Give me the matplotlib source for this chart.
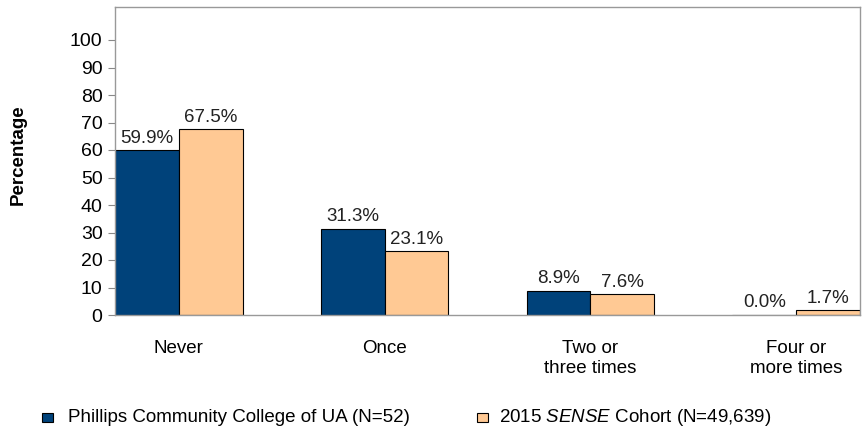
import matplotlib
matplotlib.use("Agg")
import matplotlib.pyplot as plt
from matplotlib.patches import Rectangle
import numpy as np

plt.rcParams['font.family'] = ['Liberation Sans', 'DejaVu Sans']
plt.rcParams['mathtext.fontset'] = 'custom'
plt.rcParams['mathtext.it'] = 'Liberation Sans:italic'
plt.rcParams['mathtext.rm'] = 'Liberation Sans'

categories = ["Never", "Once", "Two or\nthree times", "Four or\nmore times"]
college = [59.9, 31.3, 8.9, 0.0]
cohort = [67.5, 23.1, 7.6, 1.7]
series_names = ["Phillips Community College of UA (N=52)", "2015 $\\it{SENSE}$ Cohort (N=49,639)"]
yticks = [0, 10, 20, 30, 40, 50, 60, 70, 80, 90, 100]

c_blue = "#00427A"
c_orange = "#FFC994"
FS = 13.5

fig = plt.figure(figsize=(8.63, 4.30), dpi=100)
ax = fig.add_axes([115/863, 1-315/430, 745/863, 308/430])

x = np.arange(len(categories))
w = 0.31
b1 = ax.bar(x - w/2, college, w, color=c_blue, edgecolor="black", linewidth=0.8)
b2 = ax.bar(x + w/2, cohort, w, color=c_orange, edgecolor="black", linewidth=0.8)

for rects, vals in ((b1, college), (b2, cohort)):
    for r, v in zip(rects, vals):
        ax.text(r.get_x() + r.get_width()/2, v + 1.3, f"{v:.1f}%", ha="center", va="bottom", fontsize=FS, color="#222222")

ax.set_xlim(-0.31, 3.31)
ax.set_ylim(0, 112)
ax.set_yticks(yticks)
ax.set_yticklabels([str(t) for t in yticks], fontsize=14)
ax.set_xticks(x)
ax.set_xticklabels(categories, fontsize=FS, linespacing=1.25, va="top")
ax.tick_params(axis="x", length=0, pad=18)
ax.tick_params(axis="y", length=5, color="#888888", pad=4)
for s in ax.spines.values():
    s.set_color("#999999")
    s.set_linewidth(1.0)

fig.text(18/863, 1-155/430, "Percentage", rotation=90, ha="center", va="center", fontsize=FS, fontweight="bold")

# legend
fig.patches.append(Rectangle((42/863, 1-422/430), 11/863, 9/430, transform=fig.transFigure, facecolor=c_blue, edgecolor="black", linewidth=0.8))
fig.text(68/863, 1-417/430, series_names[0], ha="left", va="center", fontsize=FS)
fig.patches.append(Rectangle((477/863, 1-422/430), 11/863, 9/430, transform=fig.transFigure, facecolor=c_orange, edgecolor="black", linewidth=0.8))
fig.text(499/863, 1-417/430, series_names[1], ha="left", va="center", fontsize=FS)

fig.savefig("out.png", dpi=100)
